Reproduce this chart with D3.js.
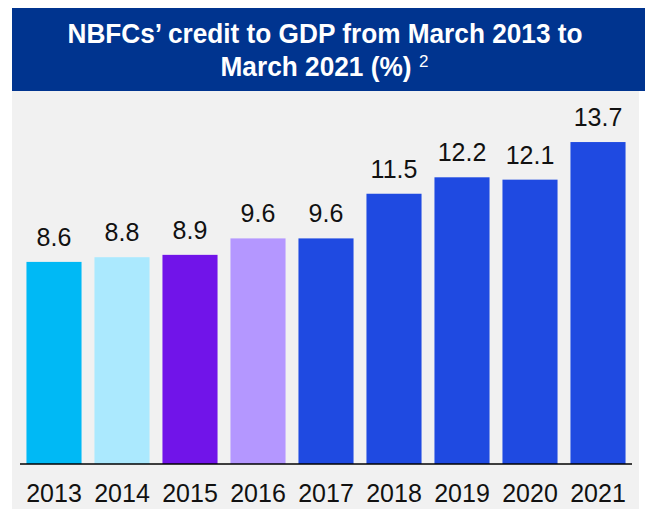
<!DOCTYPE html>
<html>
<head>
<meta charset="utf-8">
<script src="https://cdn.jsdelivr.net/npm/d3@7"></script>
<style>
  html, body { margin: 0; padding: 0; background: #ffffff; }
  svg { display: block; }
</style>
</head>
<body>
<svg id="chart" width="645" height="512"></svg>
<script>
// NBFCs' credit to GDP, March 2013 – March 2021 (%)
const years = ["2013", "2014", "2015", "2016", "2017", "2018", "2019", "2020", "2021"];
const creditToGdp = [8.6, 8.8, 8.9, 9.6, 9.6, 11.5, 12.2, 12.1, 13.7];
const barColors = ["#00b9f5", "#abe9fe", "#7114e9", "#b497ff", "#1f4ae1", "#1f4ae1", "#1f4ae1", "#1f4ae1", "#1f4ae1"];
const titleLines = ["NBFCs\u2019 credit to GDP from March\u00a02013 to", "March 2021 (%)"];
const titleNote = "2";

const svg = d3.select("#chart");

// Header band and plot panel
svg.append("rect").attr("x", 12).attr("y", 8).attr("width", 633).attr("height", 83).attr("fill", "#00348f");
svg.append("rect").attr("x", 12).attr("y", 91).attr("width", 627).attr("height", 418).attr("fill", "#f1f1f1");

// Title
const titleFont = "'Liberation Sans', Arial, sans-serif";
svg.append("text")
  .attr("x", 325).attr("y", 43)
  .attr("text-anchor", "middle")
  .attr("font-family", titleFont).attr("font-weight", "bold").attr("font-size", 27)
  .attr("fill", "#ffffff")
  .attr("textLength", 515).attr("lengthAdjust", "spacingAndGlyphs")
  .text(titleLines[0]);
svg.append("text")
  .attr("x", 316).attr("y", 76)
  .attr("text-anchor", "middle")
  .attr("font-family", titleFont).attr("font-weight", "bold").attr("font-size", 27)
  .attr("fill", "#ffffff")
  .attr("textLength", 191).attr("lengthAdjust", "spacingAndGlyphs")
  .text(titleLines[1]);
svg.append("text")
  .attr("x", 419).attr("y", 67)
  .attr("font-family", titleFont).attr("font-size", 17)
  .attr("fill", "#ffffff")
  .text(titleNote);

// Scales
const x = d3.scaleBand()
  .domain(years)
  .range([20, 632])
  .paddingInner(0.19)
  .paddingOuter(0.095);

const y = d3.scaleLinear()
  .domain([0, 14])
  .range([464, 135]);

const data = years.map((yr, i) => ({ year: yr, value: creditToGdp[i], color: barColors[i] }));

// Bars
svg.append("g").selectAll("rect")
  .data(data)
  .join("rect")
  .attr("x", d => x(d.year))
  .attr("y", d => y(d.value))
  .attr("width", x.bandwidth())
  .attr("height", d => y(0) - y(d.value))
  .attr("fill", d => d.color);

// Value labels
const labelFont = "'Liberation Sans', Arial, sans-serif";
svg.append("g").selectAll("text")
  .data(data)
  .join("text")
  .attr("x", d => x(d.year) + x.bandwidth() / 2)
  .attr("y", d => y(d.value) - 16)
  .attr("text-anchor", "middle")
  .attr("font-family", labelFont).attr("font-size", 25)
  .attr("fill", "#111111")
  .text(d => d.value.toFixed(1));

// Category axis
const axis = svg.append("g")
  .attr("transform", `translate(0,${y(0)})`)
  .call(d3.axisBottom(x).tickSize(0).tickPadding(19.5));
axis.select(".domain").attr("stroke", "#000").attr("stroke-width", 1.5).attr("d", "M20,0H632");
axis.selectAll(".tick text")
  .attr("font-family", labelFont).attr("font-size", 25)
  .attr("fill", "#111111")
  .attr("dy", "0.72em");
</script>
</body>
</html>
